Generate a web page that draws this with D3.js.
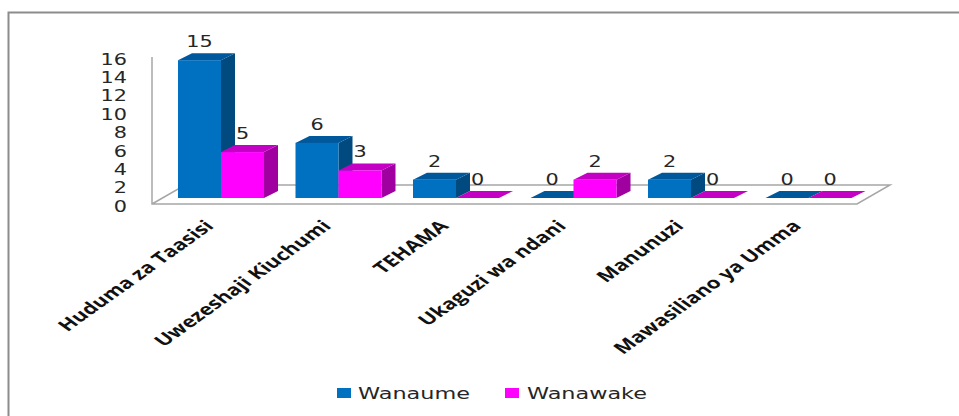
<!DOCTYPE html>
<html>
<head>
<meta charset="utf-8">
<script src="https://cdn.jsdelivr.net/npm/d3@7"></script>
<style>
  html, body { margin: 0; padding: 0; background: #fff; }
  svg { display: block; }
  text { font-family: "DejaVu Sans", sans-serif; fill: #262626; }
  .cat text { font-family: "Open Sans", sans-serif; font-weight: 700; font-size: 16px; fill: #111; }
</style>
</head>
<body>
<svg id="chart" width="959" height="416"></svg>
<script>
const categories = ["Huduma za Taasisi", "Uwezeshaji Kiuchumi", "TEHAMA", "Ukaguzi wa ndani", "Manunuzi", "Mawasiliano ya Umma"];
const seriesNames = ["Wanaume", "Wanawake"];
const wanaume = [15, 6, 2, 0, 2, 0];
const wanawake = [5, 3, 0, 2, 0, 0];
const yTicks = [0, 2, 4, 6, 8, 10, 12, 14, 16];

const colors = {
    Wanaume: {front: "#0070c0", top: "#00589c", side: "#004a80"},
    Wanawake: {front: "#ff00ff", top: "#c400c4", side: "#a000a0"}
};

const svg = d3.select("#chart");

// Outer frame, only the left and top edges are inside the picture
svg.append("path")
    .attr("d", d3.line()([[8.5, 416], [8.5, 12.5], [959, 12.5]]))
    .attr("fill", "none")
    .attr("stroke", "#8c8c8c")
    .attr("stroke-width", 2);

// Floor corners and 3D offsets
const left = 152, right = 857, floorY = 204;
const floorDx = 33, floorDy = -19;      // front edge to back edge of the floor
const barInX = 10, barInY = -6;         // front edge of floor to front of the bars
const depthX = 14, depthY = -7;         // depth of one bar

const x0 = d3.scaleBand().domain(categories).range([left, right]);
const x1 = d3.scaleBand().domain(seriesNames).range([16, x0.bandwidth() - 15.5]);
const y = d3.scaleLinear().domain([0, 16]).range([floorY, 57]);

// Walls and floor
const grid = svg.append("g").attr("fill", "none").attr("stroke", "#a6a6a6").attr("stroke-width", 1.5);
grid.append("path").attr("d", d3.line()([
    [left, y(16)], [left, floorY], [right, floorY],
    [right + floorDx, floorY + floorDy], [left + floorDx, floorY + floorDy], [left, floorY]
]));

const rows = categories.flatMap((c, i) => [
    {cat: c, name: seriesNames[0], value: wanaume[i]},
    {cat: c, name: seriesNames[1], value: wanawake[i]}
]);

const poly = d3.line();
const bars = svg.append("g").selectAll("g").data(rows).join("g");

bars.each(function (d) {
    const g = d3.select(this);
    const xa = x0(d.cat) + barInX + x1(d.name);
    const xb = xa + x1.bandwidth();
    const yb = floorY + barInY;
    const yt = y(d.value) + barInY;
    const c = colors[d.name];
    g.append("path").attr("fill", c.side).attr("d", poly([
        [xb, yb], [xb + depthX, yb + depthY], [xb + depthX, yt + depthY], [xb, yt]
    ]) + "Z");
    g.append("path").attr("fill", c.top).attr("d", poly([
        [xa, yt], [xa + depthX, yt + depthY], [xb + depthX, yt + depthY], [xb, yt]
    ]) + "Z");
    g.append("rect").attr("fill", c.front)
        .attr("x", xa).attr("y", yt)
        .attr("width", xb - xa).attr("height", yb - yt);
});

// Value labels
svg.append("g").selectAll("text").data(rows).join("text")
    .attr("text-anchor", "middle")
    .attr("font-size", 16)
    .attr("transform", d => {
        const cx = x0(d.cat) + barInX + x1(d.name) + x1.bandwidth() / 2;
        const by = y(d.value) + barInY + depthY - 6;
        return `translate(${cx},${by}) scale(1.3,1)`;
    })
    .text(d => d.value);

// Y axis labels
const yAxis = svg.append("g")
    .attr("transform", "translate(127,2)")
    .call(d3.axisLeft(y).tickValues(yTicks).tickSize(0).tickPadding(0));
yAxis.select(".domain").remove();
yAxis.selectAll("text")
    .attr("x", 0)
    .attr("font-size", 16)
    .attr("font-family", "DejaVu Sans")
    .attr("fill", "#262626")
    .attr("transform", "scale(1.3,1)");

// Category labels
const xAxis = svg.append("g")
    .attr("class", "cat")
    .attr("transform", "translate(4,227)")
    .call(d3.axisBottom(x0).tickSize(0).tickPadding(0));
xAxis.select(".domain").remove();
xAxis.selectAll("text")
    .attr("x", 0).attr("y", 0).attr("dy", 0)
    .attr("text-anchor", "end")
    .attr("font-family", null)
    .attr("font-size", null)
    .attr("transform", "scale(1.4,1) rotate(-45)");

// Legend
const legendX = [337, 505];
const legendText = [358, 527];
const legendLen = [112, 120];
seriesNames.forEach((name, i) => {
    svg.append("rect")
        .attr("x", legendX[i]).attr("y", 388)
        .attr("width", 14).attr("height", 10)
        .attr("fill", colors[name].front);
    svg.append("text")
        .attr("x", legendText[i]).attr("y", 399)
        .attr("font-size", 16)
        .attr("textLength", legendLen[i])
        .attr("lengthAdjust", "spacingAndGlyphs")
        .text(name);
});
</script>
</body>
</html>
